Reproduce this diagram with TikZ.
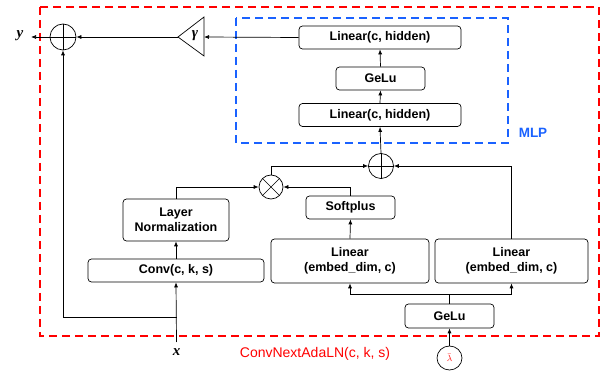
\documentclass[tikz,border=0pt]{standalone}
\usepackage{fontspec}
\setmainfont{Liberation Sans}
\newfontfamily\serifbi{Liberation Serif}
\usetikzlibrary{arrows.meta,shapes.geometric}
\definecolor{mlpblue}{RGB}{26,98,255}
\begin{document}
\begin{tikzpicture}[x=1pt,y=-1pt,
  box/.style={draw, rounded corners=3.5pt, line width=0.7pt, inner sep=0pt, align=center,
    font=\fontsize{12.5}{15.5}\selectfont\bfseries},
  arr/.style={-{Latex[length=5pt,width=4pt]}, line width=0.7pt},
  ln/.style={line width=0.7pt},
  opc/.style={draw, circle, line width=0.7pt, minimum size=25pt, inner sep=0pt},
]
\useasboundingbox (0,0) rectangle (611,371);
% outer frames
\draw[red, line width=1.4pt, dash pattern=on 8pt off 5pt] (40,7) rectangle (599,336);
\draw[mlpblue, line width=1.4pt, dash pattern=on 8pt off 5pt] (236,18) rectangle (508,143);
\node[font=\fontsize{13.5}{16}\selectfont\bfseries, text=mlpblue] (mlp) at (533,133) {MLP};
\node[font=\fontsize{14}{16}\selectfont, text=red] (title) at (315,354) {ConvNextAdaLN(c, k, s)};

% MLP boxes
\node[box, minimum width=162pt, minimum height=23pt] (lin1) at (380,37.5) {Linear(c, hidden)};
\node[box, minimum width=89pt, minimum height=23pt] (gelu1) at (380.5,78.5) {GeLu};
\node[box, minimum width=162pt, minimum height=23pt] (lin2) at (380,115) {Linear(c, hidden)};

% operators
\node[opc] (p2) at (381,166) {};
\draw[ln] (p2.north) -- (p2.south) (p2.west) -- (p2.east);
\node[opc, minimum size=24pt] (tm) at (271,187) {};
\draw[ln] (tm.north west) -- (tm.south east) (tm.north east) -- (tm.south west);
\node[opc, minimum size=26pt] (p1) at (63,37) {};
\draw[ln] (p1.north) -- (p1.south) (p1.west) -- (p1.east);

% gamma triangle
\coordinate (gtip) at (178,37);
\coordinate (gback) at (204,37);
\draw[ln] (gtip) -- (204,17) -- (204,56) -- cycle;
\node[font=\fontsize{15}{16}\selectfont\serifbi\bfseries\itshape] (gam) at (195,36) {γ};

% lower boxes
\node[box, minimum width=89pt, minimum height=23pt] (sp) at (350.5,207.5) {Softplus};
\node[box, minimum width=106pt, minimum height=42pt] (lnorm) at (176,220) {Layer\\Normalization};
\node[box, minimum width=176pt, minimum height=23pt] (conv) at (176,270.5) {Conv(c, k, s)};
\node[box, minimum width=158pt, minimum height=44pt] (linL) at (350,261) {Linear\\(embed\_dim, c)};
\node[box, minimum width=153pt, minimum height=44pt] (linR) at (511.5,261) {Linear\\(embed\_dim, c)};
\node[box, minimum width=89pt, minimum height=24pt] (gelu2) at (449.5,316) {GeLu};
\node[draw, ellipse, line width=0.7pt, minimum width=25pt, minimum height=24pt, inner sep=0pt,
  font=\fontsize{9}{10}\selectfont, text=red] (lam) at (449.5,358) {$\bar{\lambda}$};

% labels
\node[font=\fontsize{15}{16}\selectfont\serifbi\bfseries\itshape] (ylab) at (20,36) {y};
\node[font=\fontsize{15}{16}\selectfont\serifbi\bfseries\itshape] (xlab) at (176.5,352) {x};
\coordinate (yend) at (31,37);
\coordinate (xstart) at (176.5,342);
\coordinate (br) at (176.5,317);
\coordinate (j) at (449.5,294);

% connectors
\draw[arr] (p2.north) -- (lin2.south);
\draw[arr] (lin2.north) -- (gelu1.south);
\draw[arr] (gelu1.north) -- (lin1.south);
\draw[arr] (lin1.west) -- (gback);
\draw[arr] (gtip) -- (p1.east);
\draw[arr] (p1.west) -- (yend);
\draw[arr] (tm.north) |- (p2.west);
\draw[arr] (linR.north) |- (p2.east);
\draw[arr] (lnorm.north) |- (tm.west);
\draw[arr] (sp.north) |- (tm.east);
\draw[arr] (linL.north) -- (sp.south);
\draw[arr] (conv.north) -- (lnorm.south);
\draw[arr] (xstart) -- (conv.south);
\draw[arr] (br) -| (p1.south);
\draw[arr] (lam.north) -- (gelu2.south);
\draw[ln] (gelu2.north) -- (j);
\draw[arr] (j) -| (linL.south);
\draw[arr] (j) -| (linR.south);
\end{tikzpicture}
\end{document}
